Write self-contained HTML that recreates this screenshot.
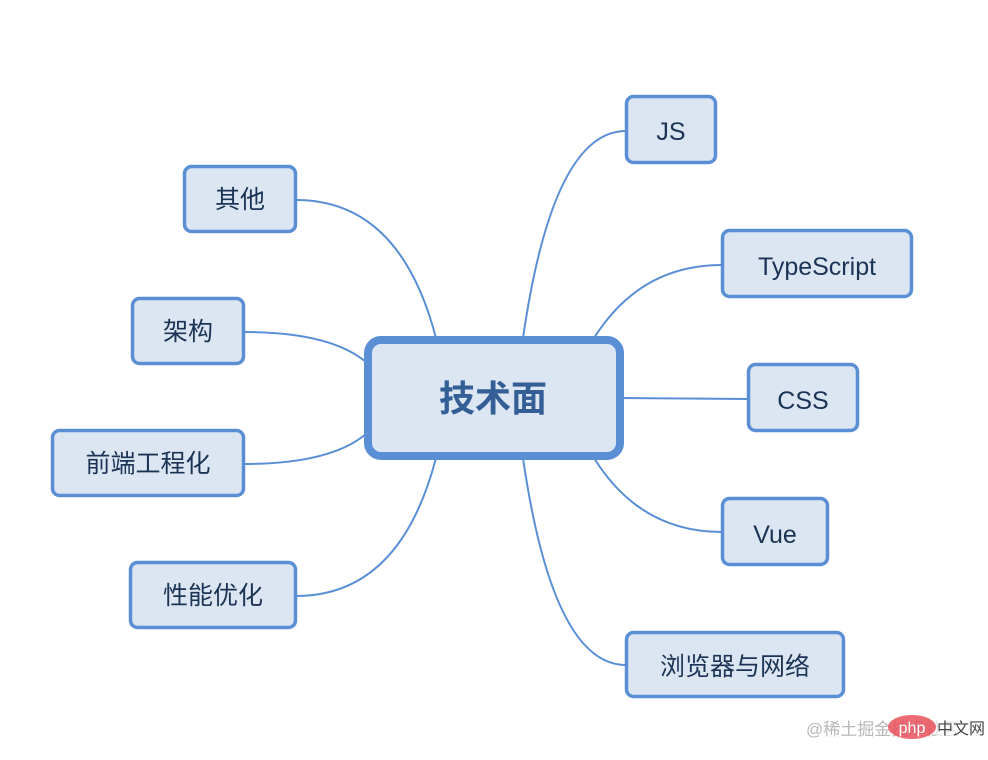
<!DOCTYPE html>
<html><head><meta charset="utf-8"><style>
html,body{margin:0;padding:0;background:#fff;}
svg{display:block;}
text{font-family:"Liberation Sans","Noto Sans CJK SC",sans-serif;fill:#1b3354;}
</style></head><body>
<svg width="988" height="760" viewBox="0 0 988 760" xmlns="http://www.w3.org/2000/svg">
<g fill="none" stroke="#5a8fd6" stroke-width="2">
<path d="M523,338 Q553,131 626,131"/>
<path d="M594,338 Q640,265 722,265"/>
<path d="M622,398 L748,399"/>
<path d="M594,458 Q640,532 722,532"/>
<path d="M523,458 Q553,665 626,665"/>
<path d="M436,338 Q400,200 296,200"/>
<path d="M366,362 Q330,332 244,332"/>
<path d="M366,434 Q330,464 244,464"/>
<path d="M436,458 Q400,596 296,596"/>
</g>
<g fill="#dce6f2" stroke="#5a8fd6" stroke-width="3.5">
<rect x="626.5" y="96.5" width="89" height="66" rx="7"/>
<rect x="722.5" y="230.5" width="189" height="66" rx="7"/>
<rect x="748.5" y="364.5" width="109" height="66" rx="7"/>
<rect x="722.5" y="498.5" width="105" height="66" rx="7"/>
<rect x="626.5" y="632.5" width="217" height="64" rx="7"/>
<rect x="184.5" y="166.5" width="111" height="65" rx="7"/>
<rect x="132.5" y="298.5" width="111" height="65" rx="7"/>
<rect x="52.5" y="430.5" width="191" height="65" rx="7"/>
<rect x="130.5" y="562.5" width="165" height="65" rx="7"/>
<rect x="368" y="340" width="252" height="116" rx="13" stroke-width="8"/>
</g>
<g font-size="25" text-anchor="middle">
<text x="671" y="140">JS</text>
<text x="817" y="275">TypeScript</text>
<text x="803" y="409">CSS</text>
<text x="775" y="543">Vue</text>
<text x="735" y="675">浏览器与网络</text>
<text x="240" y="208">其他</text>
<text x="188" y="340">架构</text>
<text x="148" y="472">前端工程化</text>
<text x="213" y="604">性能优化</text>
<text x="493" y="411" font-size="36" font-weight="bold" style="fill:#335f96">技术面</text>
</g>
<text x="806" y="735" font-size="17" style="fill:#b8b8b8">@稀土掘金技术社区</text>
<ellipse cx="912" cy="727" rx="24" ry="12" fill="#e8505b" opacity="0.85"/>
<text x="912" y="733" font-size="16" text-anchor="middle" style="fill:#fff">php</text>
<rect x="936" y="716" width="52" height="22" fill="#fff" opacity="0.6"/>
<text x="937" y="734" font-size="16" style="fill:#444">中文网</text>
</svg>
</body></html>
